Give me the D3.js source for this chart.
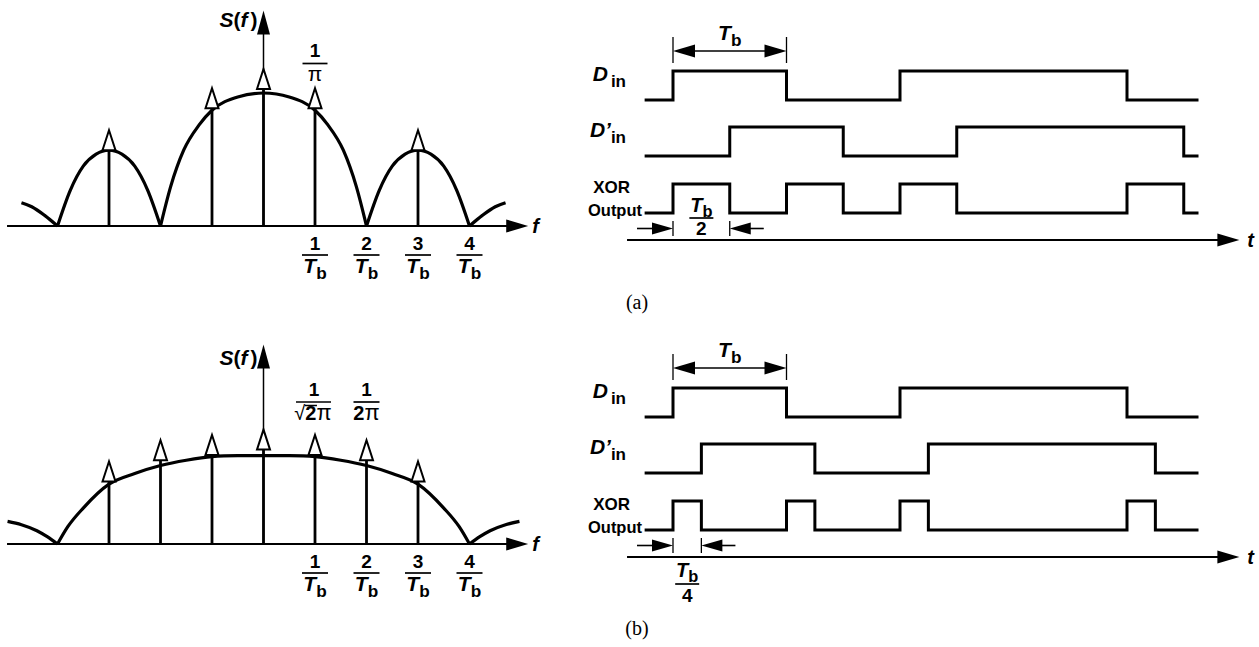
<!DOCTYPE html>
<html>
<head>
<meta charset="utf-8">
<script src="https://cdn.jsdelivr.net/npm/d3@7"></script>
<style>
  body { margin: 0; background: #fff; }
  text { font-family: "Liberation Sans", Arial, sans-serif; font-weight: bold; fill: #000; }
</style>
</head>
<body>
<svg id="fig"></svg>
<script>
// ---------- data (f in units of 1/Tb, S(f) relative; t in units of Tb) ----------
// (a) spectrum
let tailLeftA  = [[-4.7,0.175],[-4.5,0.145],[-4.25,0.08],[-4,0]];
let lobeLeftA  = [[-4,0],[-3.75,0.27],[-3.5,0.45],[-3.25,0.54],[-3,0.57],[-2.75,0.54],[-2.5,0.45],[-2.25,0.27],[-2,0]];
let mainLobeA  = [[-2,0],[-1.8,0.3],[-1.55,0.57],[-1.25,0.76],[-1,0.87],[-0.5,0.97],[0,1],[0.5,0.97],[1,0.87],[1.25,0.76],[1.55,0.57],[1.8,0.3],[2,0]];
let lobeRightA = [[2,0],[2.25,0.27],[2.5,0.45],[2.75,0.54],[3,0.57],[3.25,0.54],[3.5,0.45],[3.75,0.27],[4,0]];
let tailRightA = [[4,0],[4.25,0.08],[4.5,0.145],[4.7,0.175]];
let impulseFreqA = [-3, -1, 0, 1, 3];
let impulseAmpA  = [0.57, 0.885, 1.03, 0.885, 0.57];

// (b) spectrum
let tailLeftB  = [[-4.97,0.17],[-4.7,0.145],[-4.4,0.1],[-4.2,0.055],[-4,0]];
let mainLobeB  = [[-4,0],[-3.8,0.13],[-3.5,0.27],[-3,0.45],[-2.5,0.53],[-2,0.59],[-1.5,0.63],[-1,0.657],[-0.5,0.664],[0,0.665],[0.5,0.664],[1,0.657],[1.5,0.63],[2,0.59],[2.5,0.53],[3,0.45],[3.5,0.27],[3.8,0.13],[4,0]];
let tailRightB = [[4,0],[4.2,0.055],[4.4,0.1],[4.7,0.145],[4.97,0.17]];
let impulseFreqB = [-3, -2, -1, 0, 1, 2, 3];
let impulseAmpB  = [0.47, 0.63, 0.67, 0.71, 0.67, 0.63, 0.47];

let tickFreqs = [1, 2, 3, 4];
let tickNums  = ['1', '2', '3', '4'];
let freqAxisSpan = [-4.98, 5.14];

// timing diagrams: edge times, every signal starts low
let dinEdges       = [0, 1, 2, 4];
let dinDelayEdgesA = [0.5, 1.5, 2.5, 4.5];
let xorEdgesA      = [0, 0.5, 1, 1.5, 2, 2.5, 4, 4.5];
let dinDelayEdgesB = [0.25, 1.25, 2.25, 4.25];
let xorEdgesB      = [0, 0.25, 1, 1.25, 2, 2.25, 4, 4.25];
let waveSpan     = [-0.25, 4.63];
let timeAxisSpan = [-0.405, 4.99];
let pulseWidthA = 0.5, pulseWidthB = 0.25;

// ---------- setup ----------
let svg = d3.select('#fig').attr('width', 1259).attr('height', 647);
svg.append('rect').attr('width', 1259).attr('height', 647).attr('fill', '#fff');

//Punta de flecha rellena
function arrowHead(g, x, y, dir, len, half) {
    let p;
    if (dir == 'right') p = [[x, y], [x - len, y - half], [x - len, y + half]];
    if (dir == 'left')  p = [[x, y], [x + len, y - half], [x + len, y + half]];
    if (dir == 'up')    p = [[x, y], [x - half, y + len], [x + half, y + len]];
    g.append('path').attr('d', 'M' + p.join('L') + 'Z').attr('fill', '#000');
}

function hline(g, x1, x2, y, w) {
    g.append('line').attr('x1', x1).attr('x2', x2).attr('y1', y).attr('y2', y)
        .attr('stroke', '#000').attr('stroke-width', w);
}

function vline(g, x, y1, y2, w) {
    g.append('line').attr('x1', x).attr('x2', x).attr('y1', y1).attr('y2', y2)
        .attr('stroke', '#000').attr('stroke-width', w);
}

function tbText(g, cx, y, size) {
    let t = g.append('text').attr('x', cx).attr('y', y).attr('text-anchor', 'middle').attr('font-size', size);
    t.append('tspan').attr('font-style', 'italic').text('T');
    t.append('tspan').attr('font-size', size * 0.82).attr('dy', size * 0.27).text('b');
    return t;
}

function plainText(g, cx, y, size, str, weight) {
    return g.append('text').attr('x', cx).attr('y', y).attr('text-anchor', 'middle')
        .attr('font-size', size).style('font-weight', weight || 'bold').text(str);
}

// ---------- spectrum panel ----------
function drawSpectrum(axisY, lobes, impFreq, impAmp, sTop, labelY) {
    let g = svg.append('g');
    let x = d3.scaleLinear().domain([0, 1]).range([263.5, 315]);
    let y = d3.scaleLinear().domain([0, 1]).range([axisY, axisY - 133]);

    //Eje f
    hline(g, x(freqAxisSpan[0]), x(freqAxisSpan[1]) - 18, axisY, 2);
    arrowHead(g, x(freqAxisSpan[1]), axisY, 'right', 22, 6.5);
    g.append('text').attr('x', x(freqAxisSpan[1]) + 4).attr('y', axisY + 7)
        .attr('font-size', 20).attr('font-style', 'italic').text('f');

    //Eje S(f)
    vline(g, x(0), axisY, y(sTop) + 20, 1.5);
    arrowHead(g, x(0), y(sTop), 'up', 24, 6.5);
    let sl = g.append('text').attr('x', x(0) - 6).attr('y', labelY).attr('text-anchor', 'end').attr('font-size', 21);
    sl.append('tspan').attr('font-style', 'italic').text('S');
    sl.append('tspan').text('(');
    sl.append('tspan').attr('font-style', 'italic').text('f');
    sl.append('tspan').attr('dx', 3).text(')');

    //Curva
    let line = d3.line().x(d => x(d[0])).y(d => y(d[1])).curve(d3.curveMonotoneX);
    g.selectAll('.lobe').data(lobes).enter().append('path')
        .attr('class', 'lobe')
        .attr('d', line)
        .attr('fill', 'none').attr('stroke', '#000').attr('stroke-width', 3.2);

    //Impulsos
    let imp = impFreq.map((f, i) => ({ f: f, a: impAmp[i] }));
    g.selectAll('.stem').data(imp).enter().append('line')
        .attr('class', 'stem')
        .attr('x1', d => x(d.f)).attr('x2', d => x(d.f))
        .attr('y1', axisY).attr('y2', d => y(d.a))
        .attr('stroke', '#000').attr('stroke-width', 2.8);
    g.selectAll('.head').data(imp).enter().append('path')
        .attr('class', 'head')
        .attr('d', d => `M${x(d.f) - 6.5},${y(d.a)}L${x(d.f)},${y(d.a) - 20}L${x(d.f) + 6.5},${y(d.a)}Z`)
        .attr('fill', '#fff').attr('stroke', '#000').attr('stroke-width', 2).attr('stroke-linejoin', 'miter');

    //Etiquetas del eje f
    tickFreqs.forEach(function(f, i) {
        plainText(g, x(f), axisY + 24, 19, tickNums[i]);
        hline(g, x(f) - 13, x(f) + 13, axisY + 29, 1.7);
        tbText(g, x(f), axisY + 47, 21);
    });
    return { g: g, x: x, y: y };
}

let sa = drawSpectrum(226, [tailLeftA, lobeLeftA, mainLobeA, lobeRightA, tailRightA], impulseFreqA, impulseAmpA, 1.62, 27);
plainText(sa.g, sa.x(1), 57, 19, '1');
hline(sa.g, sa.x(1) - 12.5, sa.x(1) + 12.5, 63.5, 1.7);
plainText(sa.g, sa.x(1), 81, 21, '\u03c0', 'normal');

let sb = drawSpectrum(544, [tailLeftB, mainLobeB, tailRightB], impulseFreqB, impulseAmpB, 1.5, 365);
plainText(sb.g, sb.x(1) - 1, 396, 19, '1');
hline(sb.g, sb.x(1) - 19, sb.x(1) + 16, 402, 1.7);
let rt = sb.g.append('text').attr('x', sb.x(1) - 2).attr('y', 420).attr('text-anchor', 'middle').attr('font-size', 20);
rt.append('tspan').style('font-weight', 'normal').text('\u221a');
rt.append('tspan').text('2');
rt.append('tspan').style('font-weight', 'normal').attr('font-size', 22).text('\u03c0');
let two = rt.node().getExtentOfChar(1);
hline(sb.g, two.x - 0.5, two.x + two.width + 0.5, two.y + 3.5, 1.5);
plainText(sb.g, sb.x(2), 396, 19, '1');
hline(sb.g, sb.x(2) - 13, sb.x(2) + 13, 402, 1.7);
let tp = sb.g.append('text').attr('x', sb.x(2)).attr('y', 420).attr('text-anchor', 'middle').attr('font-size', 20);
tp.append('tspan').text('2');
tp.append('tspan').style('font-weight', 'normal').attr('font-size', 22).text('\u03c0');

// ---------- timing panel ----------
function wavePoints(edges) {
    let pts = [[waveSpan[0], 0]], lvl = 0;
    edges.forEach(function(e) { lvl = 1 - lvl; pts.push([e, lvl]); });
    pts.push([waveSpan[1], lvl]);
    return pts;
}

function drawTiming(dy, delayEdges, xorEdges, pw, den, denY) {
    let g = svg.append('g').attr('transform', `translate(0,${dy})`);
    let t = d3.scaleLinear().domain([0, 1]).range([673, 786.5]);
    let rows = [
        { edges: dinEdges,   hi: 71,  lo: 100 },
        { edges: delayEdges, hi: 127, lo: 156 },
        { edges: xorEdges,   hi: 184, lo: 213 }
    ];
    rows.forEach(function(r) {
        let lv = d3.scaleLinear().domain([0, 1]).range([r.lo, r.hi]);
        let line = d3.line().x(d => t(d[0])).y(d => lv(d[1])).curve(d3.curveStepAfter);
        g.append('path').attr('d', line(wavePoints(r.edges)))
            .attr('fill', 'none').attr('stroke', '#000').attr('stroke-width', 3)
            .attr('stroke-linejoin', 'miter');
    });

    //Etiquetas de las señales
    let d1 = g.append('text').attr('x', 626).attr('y', 81).attr('text-anchor', 'end').attr('font-size', 21);
    d1.append('tspan').attr('font-style', 'italic').text('D');
    d1.append('tspan').attr('font-size', 17).attr('dx', 3).attr('dy', 6).text('in');
    let d2 = g.append('text').attr('x', 626).attr('y', 137).attr('text-anchor', 'end').attr('font-size', 21);
    d2.append('tspan').attr('font-style', 'italic').text('D\u2019');
    d2.append('tspan').attr('font-size', 17).attr('dy', 6).text('in');
    g.append('text').attr('x', 630).attr('y', 193).attr('text-anchor', 'end').attr('font-size', 17).text('XOR');
    g.append('text').attr('x', 642).attr('y', 216).attr('text-anchor', 'end').attr('font-size', 17)
        .attr('textLength', 54).attr('lengthAdjust', 'spacingAndGlyphs').text('Output');

    //Cota Tb
    vline(g, t(0), 37, 63, 1.3);
    vline(g, t(1), 37, 63, 1.3);
    hline(g, t(0) + 15, t(1) - 15, 51, 1.6);
    arrowHead(g, t(0), 51, 'left', 22, 6.5);
    arrowHead(g, t(1), 51, 'right', 22, 6.5);
    tbText(g, t(0.5), 40, 21);

    //Cota del pulso XOR
    vline(g, t(0), 221, 236, 1.3);
    vline(g, t(pw), 221, 236, 1.3);
    hline(g, t(-0.317), t(0) - 15, 228.5, 1.6);
    arrowHead(g, t(0), 228.5, 'right', 21, 6);
    hline(g, t(pw) + 15, t(pw + 0.3), 228.5, 1.6);
    arrowHead(g, t(pw), 228.5, 'left', 21, 6);
    tbText(g, t(pw / 2), denY[0], 20);
    hline(g, t(pw / 2) - 12, t(pw / 2) + 12, denY[1], 1.7);
    plainText(g, t(pw / 2), denY[2], 19, den);

    //Eje t
    hline(g, t(timeAxisSpan[0]), t(timeAxisSpan[1]) - 18, 240, 1.8);
    arrowHead(g, t(timeAxisSpan[1]), 240, 'right', 22, 6.5);
    g.append('text').attr('x', t(timeAxisSpan[1]) + 8).attr('y', 247)
        .attr('font-size', 20).attr('font-style', 'italic').text('t');
}

drawTiming(0, dinDelayEdgesA, xorEdgesA, pulseWidthA, '2', [212, 218, 235]);
drawTiming(317, dinDelayEdgesB, xorEdgesB, pulseWidthB, '4', [260, 267, 285]);

// ---------- captions ----------
[['(a)', 309], ['(b)', 635]].forEach(function(c) {
    svg.append('text').attr('x', 637).attr('y', c[1]).attr('text-anchor', 'middle')
        .attr('font-size', 20).style('font-family', '"Liberation Serif", "Times New Roman", serif')
        .style('font-weight', 'normal').text(c[0]);
});
</script>
</body>
</html>
